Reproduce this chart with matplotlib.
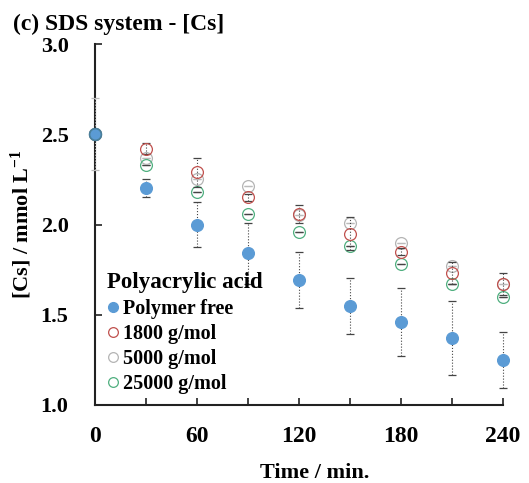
import matplotlib
matplotlib.use("Agg")
import matplotlib.pyplot as plt
from matplotlib.lines import Line2D

times = [0, 30, 60, 90, 120, 150, 180, 210, 240]
free = [2.50, 2.20, 2.00, 1.84, 1.69, 1.55, 1.46, 1.37, 1.25]
free_err = [0, 0.05, 0.125, 0.17, 0.155, 0.155, 0.19, 0.205, 0.155]
m1800 = [2.50, 2.42, 2.29, 2.15, 2.06, 1.95, 1.85, 1.73, 1.67]
m1800_err = [0, 0.03, 0.08, 0.02, 0.05, 0.09, 0.02, 0.06, 0.06]
m5000 = [2.50, 2.37, 2.25, 2.215, 2.05, 2.01, 1.90, 1.77, 1.67]
m5000_err = [0.2, 0, 0, 0, 0, 0, 0, 0, 0]
m25000 = [2.50, 2.33, 2.18, 2.06, 1.96, 1.88, 1.78, 1.67, 1.60]

labels = ["Polymer free", "1800 g/mol", "5000 g/mol", "25000 g/mol"]
xticks = [0, 60, 120, 180, 240]
yticks = [1.0, 1.5, 2.0, 2.5, 3.0]

c_free = "#5B9BD5"
c_1800 = "#C0504D"
c_5000 = "#B4B4B4"
c_25000 = "#4FAF7F"

plt.rcParams["font.family"] = ["Liberation Serif", "DejaVu Serif"]
plt.rcParams["font.weight"] = "bold"
plt.rcParams["mathtext.fontset"] = "custom"
plt.rcParams["mathtext.rm"] = "Liberation Serif:bold"
plt.rcParams["mathtext.bf"] = "Liberation Serif:bold"
plt.rcParams["mathtext.default"] = "rm"

fig = plt.figure(figsize=(5.29, 4.83), dpi=100)
ax = fig.add_axes([95 / 529, 1 - 405 / 483, (503 - 95) / 529, (405 - 44) / 483])

ms = 8.5

def ebar(y, err, color, face, z, ecol):
    cont = ax.errorbar(times, y, yerr=err, fmt="o", ms=ms, mfc=face, mec=color,
                       mew=0.9, ecolor=ecol, elinewidth=0.8, capsize=3,
                       capthick=0.8, zorder=z, clip_on=False)
    for b in cont[2]:
        b.set_linestyle(":")
        b.set_clip_on(False)
    for c in cont[1]:
        c.set_clip_on(False)
    return cont

ebar(m5000, m5000_err, c_5000, "none", 3, "#BBBBBB")
ebar(m25000, [0] * len(times), c_25000, "none", 3, "#444444")
ebar(m1800, m1800_err, c_1800, "none", 4, "#444444")
ebar(free, free_err, c_free, c_free, 5, "#444444")
ax.plot(times[:1], free[:1], "o", ms=ms, mfc=c_free, mec="#4A7F9A", mew=1.2,
        zorder=6, clip_on=False)

ax.set_xlim(0, 240)
ax.set_ylim(1.0, 3.0)
ax.set_xticks(xticks)
ax.set_xticks([30, 90, 150, 210], minor=True)
ax.set_yticks(yticks)
ax.set_yticklabels([f"{v:.1f}" for v in yticks])
ax.tick_params(axis="both", which="both", direction="in", length=5, width=1.2,
               color="#222222")
ax.tick_params(axis="x", which="major", pad=15, labelsize=17)
ax.tick_params(axis="y", which="major", pad=19, labelsize=16)
for s in ["top", "right"]:
    ax.spines[s].set_visible(False)
for s in ["left", "bottom"]:
    ax.spines[s].set_linewidth(1.5)
    ax.spines[s].set_color("#222222")

ax.set_xlabel("Time / min.", fontsize=16, fontweight="bold")
ax.xaxis.set_label_coords((315 - 95) / 408, -58 / 361)
ax.set_ylabel("[Cs] / mmol L$^{-1}$", fontsize=16, fontweight="bold", labelpad=5)

fig.text(13 / 529, 1 - 30 / 483, "(c) SDS system - [Cs]", fontsize=17,
         fontweight="bold", ha="left", va="baseline")

handles = [
    Line2D([], [], ls="none", marker="o", ms=7, mfc=c_free, mec=c_free),
    Line2D([], [], ls="none", marker="o", ms=7, mfc="none", mec=c_1800, mew=0.9),
    Line2D([], [], ls="none", marker="o", ms=7, mfc="none", mec=c_5000, mew=0.9),
    Line2D([], [], ls="none", marker="o", ms=7, mfc="none", mec=c_25000, mew=0.9),
]
leg = ax.legend(handles, labels, title="Polyacrylic acid", loc="upper left",
                bbox_to_anchor=(97 / 529, 1 - 262 / 483), bbox_transform=fig.transFigure,
                frameon=False, handlelength=0.6, handletextpad=0.2,
                borderpad=0, labelspacing=0.26, prop={"size": 14.5, "weight": "bold"},
                title_fontproperties={"size": 16.5, "weight": "bold"})
leg._legend_box.align = "left"
leg._legend_box.sep = 4
leg.set_zorder(10)

fig.savefig("out.png", dpi=100)
